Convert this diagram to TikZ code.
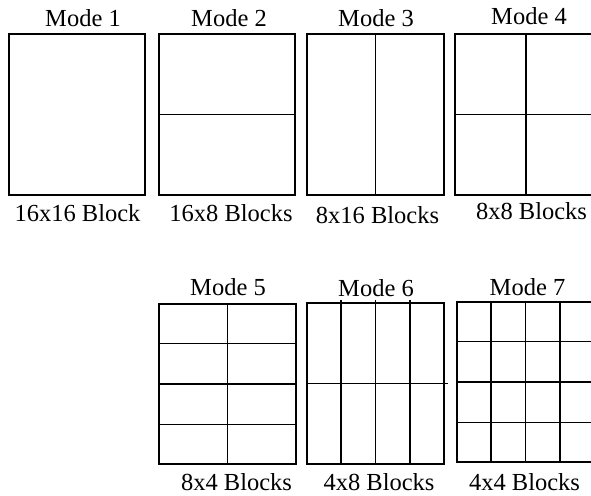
\documentclass[tikz,border=0pt]{standalone}
\usepackage{fontspec}
\setmainfont{Liberation Serif}
\usepackage{tikz}
\usetikzlibrary{calc,positioning}
\tikzset{
  figura/.style={x=1pt,y=-1pt,line width=1.8pt},
  riquadro/.style={draw,rectangle,inner sep=0pt,minimum width=137pt,minimum height=161pt},
  titolo/.style={anchor=base,inner sep=0pt,font=\fontsize{24.5}{29}\selectfont},
  didascalia/.style={anchor=base,inner sep=0pt,font=\fontsize{24.5}{29}\selectfont}
}

\begin{document}
\begin{tikzpicture}[figura]
\useasboundingbox (0,0) rectangle (591,495);
\clip (0,0) rectangle (591,495);
% riga superiore
\node[riquadro,minimum width=136pt] (m1) at (77,114.5) {};
\node[riquadro,minimum width=136pt] (m2) at (227,114.5) {};
\node[riquadro] (m3) at (375.5,114.5) {};
\node[riquadro,minimum width=140pt] (m4) at (525,114.5) {};
% riga inferiore
\node[riquadro,minimum height=160pt] (m5) at (227.5,384) {};
\node[riquadro] (m6) at (375.5,383.5) {};
\node[riquadro,minimum height=160pt] (m7) at (525.5,382) {};

% suddivisioni
\draw (m2.west) -- (m2.east);
\draw (m3.north) -- (m3.south);
\draw ([xshift=2pt]m4.west) -- (m4.east);
\draw ([xshift=1pt]m4.north) -- ([xshift=1pt]m4.south);
\foreach \f in {0.25,0.5,0.75}
  \draw ($(m5.north west)!\f!(m5.south west)$) -- ($(m5.north east)!\f!(m5.south east)$);
\draw (m5.north) -- (m5.south);
\foreach \f in {0.25,0.5,0.75}
  \draw ([yshift=2pt]$(m6.north west)!\f!(m6.north east)$) -- ($(m6.south west)!\f!(m6.south east)$);
\draw (m6.west) -- ([xshift=3pt]m6.east);
\foreach \f in {0.25,0.5,0.75} {
  \draw ($(m7.north west)!\f!(m7.south west)$) -- ($(m7.north east)!\f!(m7.south east)$);
  \draw ($(m7.north west)!\f!(m7.north east)$) -- ($(m7.south west)!\f!(m7.south east)$);
}

% titoli
\node[titolo] (t1) at (83,26.7) {Mode 1};
\node[titolo] (t2) at (229,26.7) {Mode 2};
\node[titolo] (t3) at (376,26.7) {Mode 3};
\node[titolo] (t4) at (529,25) {Mode 4};
\node[titolo] (t5) at (228,295.7) {Mode 5};
\node[titolo] (t6) at (376,296) {Mode 6};
\node[titolo] (t7) at (527.5,295) {Mode 7};

% didascalie
\node[didascalia] (d1) at (77.5,221.7) {16x16 Block};
\node[didascalia] (d2) at (231,221.7) {16x8 Blocks};
\node[didascalia] (d3) at (377.5,223) {8x16 Blocks};
\node[didascalia] (d4) at (531.5,219) {8x8 Blocks};
\node[didascalia] (d5) at (236.5,490) {8x4 Blocks};
\node[didascalia] (d6) at (379,490) {4x8 Blocks};
\node[didascalia] (d7) at (524.5,490) {4x4 Blocks};
\end{tikzpicture}
\end{document}
